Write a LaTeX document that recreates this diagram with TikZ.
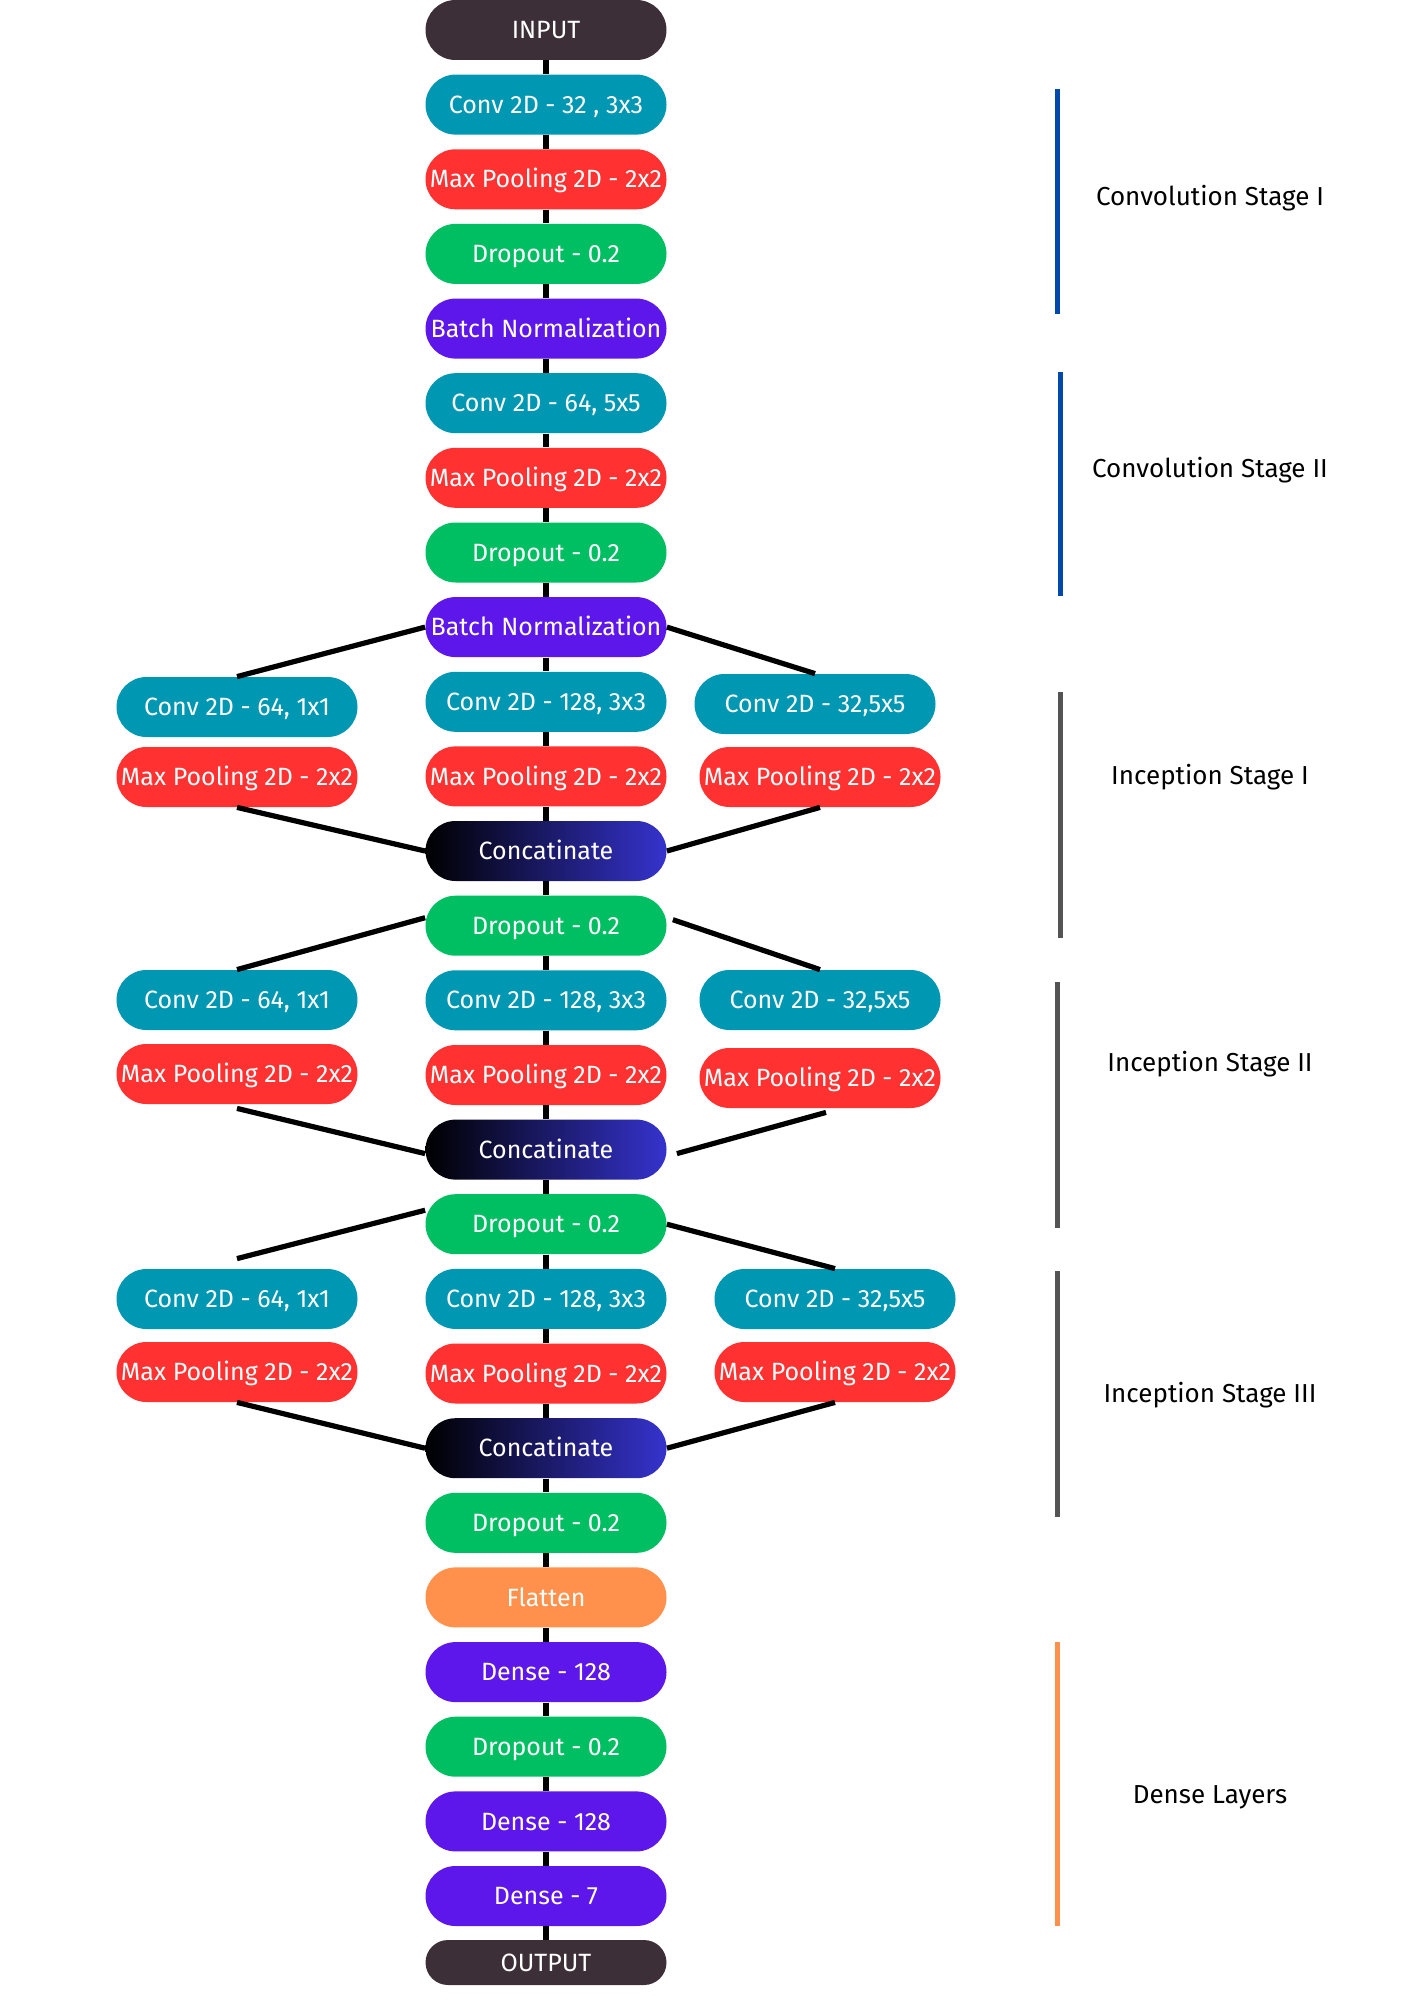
\documentclass[tikz,border=0pt]{standalone}
\usepackage{fontspec}
\setmainfont{Fira Sans}
\definecolor{iocol}{HTML}{3C2F38}
\definecolor{convcol}{HTML}{0097B2}
\definecolor{poolcol}{HTML}{FF3131}
\definecolor{dropcol}{HTML}{00BF63}
\definecolor{normcol}{HTML}{5E17EB}
\definecolor{flatcol}{HTML}{FF914D}
\definecolor{catcol}{HTML}{3533CD}
\definecolor{stageblue}{HTML}{004AAD}
\definecolor{stagegray}{HTML}{545454}
\begin{document}
\begin{tikzpicture}[x=0.5pt, y=-0.5pt,
    pill/.style={rectangle, rounded corners=15pt, minimum width=120.5pt, minimum height=30pt,
      inner sep=0pt, text height=8.6pt, text depth=0pt, text=white,
      font=\fontsize{12.5}{15}\selectfont},
    iobox/.style={pill, fill=iocol},
    convbox/.style={pill, fill=convcol},
    poolbox/.style={pill, fill=poolcol},
    dropbox/.style={pill, fill=dropcol},
    normbox/.style={pill, fill=normcol},
    flatbox/.style={pill, fill=flatcol},
    catbox/.style={pill, left color=black, right color=catcol},
    link/.style={line width=2.6pt, black},
    stagebar/.style={line width=2.5pt},
    stagelabel/.style={text=black, font=\fontsize{13}{16}\selectfont}
  ]
  \useasboundingbox (0,0) rectangle (1414,2000);

  % Main column
  \node[iobox] (inp) at (546, 30) {INPUT};
  \node[convbox] (conv1) at (546, 104.6) {Conv 2D - 32 , 3x3};
  \node[poolbox] (pool1) at (546, 179.3) {Max Pooling 2D - 2x2};
  \node[dropbox] (drop1) at (546, 253.9) {Dropout - 0.2};
  \node[normbox] (norm1) at (546, 328.6) {Batch Normalization};
  \node[convbox] (conv2) at (546, 403.2) {Conv 2D - 64, 5x5};
  \node[poolbox] (pool2) at (546, 477.8) {Max Pooling 2D - 2x2};
  \node[dropbox] (drop2) at (546, 552.5) {Dropout - 0.2};
  \node[normbox] (norm2) at (546, 627.1) {Batch Normalization};
  \node[convbox] (conv3m) at (546, 701.8) {Conv 2D - 128, 3x3};
  \node[poolbox] (pool3m) at (546, 776.4) {Max Pooling 2D - 2x2};
  \node[catbox] (cat1) at (546, 851.0) {Concatinate};
  \node[dropbox] (drop3) at (546, 925.7) {Dropout - 0.2};
  \node[convbox] (conv4m) at (546, 1000.3) {Conv 2D - 128, 3x3};
  \node[poolbox] (pool4m) at (546, 1075.0) {Max Pooling 2D - 2x2};
  \node[catbox] (cat2) at (546, 1149.6) {Concatinate};
  \node[dropbox] (drop4) at (546, 1224.2) {Dropout - 0.2};
  \node[convbox] (conv5m) at (546, 1298.9) {Conv 2D - 128, 3x3};
  \node[poolbox] (pool5m) at (546, 1373.5) {Max Pooling 2D - 2x2};
  \node[catbox] (cat3) at (546, 1448.2) {Concatinate};
  \node[dropbox] (drop5) at (546, 1522.8) {Dropout - 0.2};
  \node[flatbox] (flat) at (546, 1597.4) {Flatten};
  \node[normbox] (dense1) at (546, 1672.1) {Dense - 128};
  \node[dropbox] (drop6) at (546, 1746.7) {Dropout - 0.2};
  \node[normbox] (dense2) at (546, 1821.4) {Dense - 128};
  \node[normbox] (dense3) at (546, 1896.0) {Dense - 7};
  \node[iobox, minimum height=22.5pt, rounded corners=11.25pt] (out) at (546, 1962.5) {OUTPUT};

  \draw[link] (inp) -- (conv1) -- (pool1) -- (drop1) -- (norm1) -- (conv2) -- (pool2) -- (drop2)
    -- (norm2) -- (conv3m) -- (pool3m) -- (cat1) -- (drop3) -- (conv4m) -- (pool4m) -- (cat2)
    -- (drop4) -- (conv5m) -- (pool5m) -- (cat3) -- (drop5) -- (flat) -- (dense1) -- (drop6)
    -- (dense2) -- (dense3) -- (out);

  % Inception I branches
  \node[convbox] (conv3l) at (237, 707) {Conv 2D - 64, 1x1};
  \node[poolbox] (pool3l) at (237, 777) {Max Pooling 2D - 2x2};
  \node[convbox] (conv3r) at (815, 704) {Conv 2D - 32,5x5};
  \node[poolbox] (pool3r) at (820, 777) {Max Pooling 2D - 2x2};
  \draw[link] (norm2.west) -- (conv3l.north);
  \draw[link] (norm2.east) -- (conv3r.north);
  \draw[link] (pool3l.south) -- (cat1.west);
  \draw[link] (pool3r.south) -- (cat1.east);

  % Inception II branches
  \node[convbox] (conv4l) at (237, 1000) {Conv 2D - 64, 1x1};
  \node[poolbox] (pool4l) at (237, 1074) {Max Pooling 2D - 2x2};
  \node[convbox] (conv4r) at (820, 1000) {Conv 2D - 32,5x5};
  \node[poolbox] (pool4r) at (820, 1078) {Max Pooling 2D - 2x2};
  \draw[link] ([yshift=4pt]drop3.west) -- (conv4l.north);
  \draw[link] ([xshift=3pt, yshift=3pt]drop3.east) -- (conv4r.north);
  \draw[link] ([yshift=-2pt]pool4l.south) -- ([yshift=-2pt]cat2.west);
  \draw[link] ([xshift=3pt, yshift=-2pt]pool4r.south) -- ([xshift=5pt, yshift=-2pt]cat2.east);

  % Inception III branches
  \node[convbox] (conv5l) at (237, 1299) {Conv 2D - 64, 1x1};
  \node[poolbox] (pool5l) at (237, 1372) {Max Pooling 2D - 2x2};
  \node[convbox] (conv5r) at (835, 1299) {Conv 2D - 32,5x5};
  \node[poolbox] (pool5r) at (835, 1372) {Max Pooling 2D - 2x2};
  \draw[link] ([yshift=7pt]drop4.west) -- ([yshift=5pt]conv5l.north);
  \draw[link] (drop4.east) -- (conv5r.north);
  \draw[link] (pool5l.south) -- (cat3.west);
  \draw[link] (pool5r.south) -- (cat3.east);

  % Stage markers
  \draw[stagebar, stageblue] (1057, 89) -- (1057, 314);
  \node[stagelabel] (lbconv1) at (1210, 198) {Convolution Stage I};
  \draw[stagebar, stageblue] (1060, 372) -- (1060, 596);
  \node[stagelabel] (lbconv2) at (1210, 470) {Convolution Stage II};
  \draw[stagebar, stagegray] (1060, 692) -- (1060, 938);
  \node[stagelabel] (lbinc1) at (1210, 777) {Inception Stage I};
  \draw[stagebar, stagegray] (1057, 982) -- (1057, 1228);
  \node[stagelabel] (lbinc2) at (1210, 1064) {Inception Stage II};
  \draw[stagebar, stagegray] (1057, 1271) -- (1057, 1517);
  \node[stagelabel] (lbinc3) at (1210, 1395) {Inception Stage III};
  \draw[stagebar, flatcol] (1057, 1642) -- (1057, 1926);
  \node[stagelabel] (lbdense) at (1210, 1797) {Dense Layers};
\end{tikzpicture}
\end{document}
